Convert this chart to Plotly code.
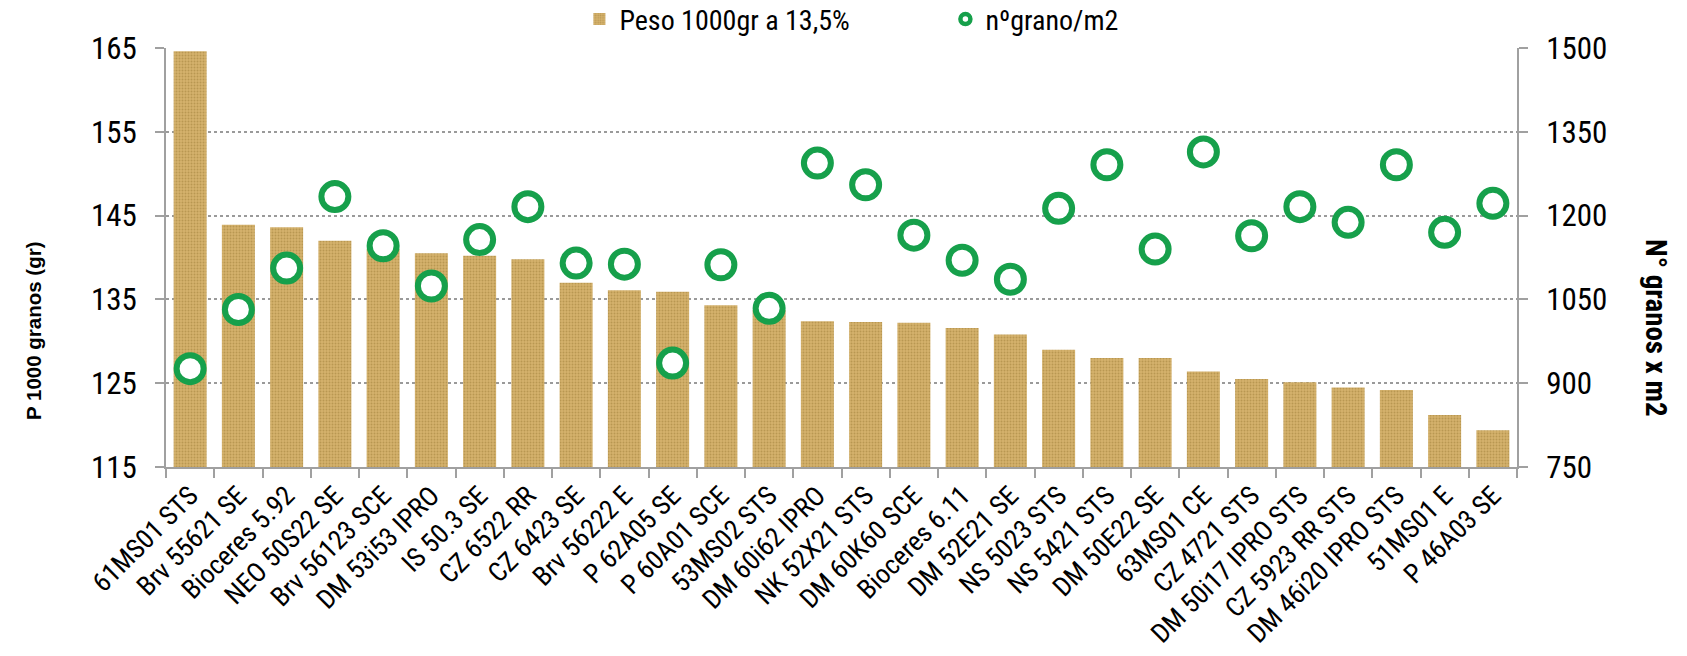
import plotly.graph_objects as go

categories = ["61MS01 STS", "Brv 55621 SE", "Bioceres 5.92", "NEO 50S22 SE", "Brv 56123 SCE",
              "DM 53i53 IPRO", "IS 50.3 SE", "CZ 6522 RR", "CZ 6423 SE", "Brv 56222 E",
              "P 62A05 SE", "P 60A01 SCE", "53MS02 STS", "DM 60i62 IPRO", "NK 52X21 STS",
              "DM 60K60 SCE", "Bioceres 6.11", "DM 52E21 SE", "NS 5023 STS", "NS 5421 STS",
              "DM 50E22 SE", "63MS01 CE", "CZ 4721 STS", "DM 50i17 IPRO STS", "CZ 5923 RR STS",
              "DM 46i20 IPRO STS", "51MS01 E", "P 46A03 SE"]

peso_1000 = [164.6, 143.9, 143.6, 142.0, 141.0, 140.5, 140.2, 139.8, 137.0, 136.1,
             135.9, 134.3, 133.7, 132.4, 132.3, 132.2, 131.6, 130.8, 129.0, 128.0,
             128.0, 126.4, 125.5, 125.1, 124.5, 124.2, 121.2, 119.4]

granos_m2 = [926, 1032, 1106, 1234, 1146, 1074, 1157, 1216, 1115, 1113,
             936, 1112, 1034, 1294, 1255, 1165, 1120, 1086, 1213, 1291,
             1140, 1314, 1164, 1216, 1188, 1291, 1170, 1222]

left_ticks = [115, 125, 135, 145, 155, 165]
right_ticks = [750, 900, 1050, 1200, 1350, 1500]

COND = "Roboto Condensed, Liberation Sans Narrow, DejaVu Sans Condensed, Roboto, sans-serif"
NARROW = "Liberation Sans Narrow, Roboto Condensed, Liberation Sans, sans-serif"
BOLD = "Liberation Sans, Arial, sans-serif"
GREEN = "#16A04B"
AXIS = "#A0A0A0"

W, H = 1687, 656
L, R, T, B = 166, 170, 48, 189
pw, ph = W - L - R, H - T - B

fig = go.Figure()
fig.add_trace(go.Bar(
    x=categories, y=peso_1000, name="Peso 1000gr a 13,5%",
    marker=dict(color="#C8A55F", line=dict(width=0),
                pattern=dict(shape=".", fgcolor="#9E7B38", bgcolor="#D4B26C", size=3, solidity=0.35)),
    yaxis="y",
))
fig.add_trace(go.Scatter(
    x=categories, y=granos_m2, name="nºgrano/m2", mode="markers",
    marker=dict(symbol="circle", size=27, color="white", line=dict(color=GREEN, width=6)),
    yaxis="y2", showlegend=False,
))
# legend-only entry with a smaller ring symbol
fig.add_trace(go.Scatter(
    x=[categories[0]], y=[None], name="nºgrano/m2", mode="markers",
    marker=dict(symbol="circle", size=10, color="white", line=dict(color=GREEN, width=4.5)),
    yaxis="y2", showlegend=True, hoverinfo="skip",
))

fig.update_layout(
    width=W, height=H,
    margin=dict(l=L, r=R, t=T, b=B, autoexpand=False),
    paper_bgcolor="white", plot_bgcolor="white",
    bargap=0.316,
    font=dict(family=COND, size=26, color="black"),
    showlegend=True,
    legend=dict(orientation="h", x=0.306, xanchor="left", y=1.128, yanchor="top",
                entrywidth=321, entrywidthmode="pixels",
                font=dict(family=COND, size=28), bgcolor="rgba(0,0,0,0)", itemsizing="trace",
                traceorder="normal"),
    xaxis=dict(
        type="category", showline=True, linecolor=AXIS, linewidth=2,
        ticks="outside", ticklen=9, tickcolor=AXIS, tickwidth=2, tickson="boundaries",
        tickangle=-45, tickfont=dict(family=COND, size=27), showgrid=False,
        range=[-0.5, len(categories) - 0.5],
    ),
    yaxis=dict(
        range=[115, 165], tickvals=left_ticks, showline=True, linecolor=AXIS, linewidth=2,
        ticks="outside", ticklen=9, tickcolor=AXIS, tickwidth=2, ticklabelstandoff=12,
        showgrid=True, gridcolor="#9A9A9A", griddash="dot", gridwidth=1.5,
        tickfont=dict(family=COND, size=31), zeroline=False,
    ),
    yaxis2=dict(
        range=[750, 1500], tickvals=right_ticks, overlaying="y", side="right",
        showline=True, linecolor=AXIS, linewidth=2,
        ticks="outside", ticklen=9, tickcolor=AXIS, tickwidth=2, ticklabelstandoff=12,
        showgrid=False, tickfont=dict(family=COND, size=31), zeroline=False,
    ),
    annotations=[
        dict(text="<b>P 1000 granos (gr)</b>", x=(34 - L) / pw, y=(H - B - 331) / ph,
             xref="paper", yref="paper", xanchor="center", yanchor="middle",
             showarrow=False, textangle=-90,
             font=dict(family=BOLD, size=20.5, color="black")),
        dict(text="<b>N° granos x m2</b>", x=(1656 - L) / pw, y=(H - B - 328) / ph,
             xref="paper", yref="paper", xanchor="center", yanchor="middle",
             showarrow=False, textangle=90,
             font=dict(family=NARROW, size=29, color="black")),
    ],
)

fig.write_html("out.html", config={"displayModeBar": False},
               post_script="document.body.style.margin='0';document.body.style.overflow='hidden';")
